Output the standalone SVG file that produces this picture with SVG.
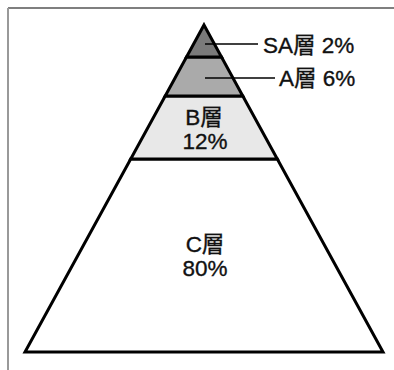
<svg xmlns="http://www.w3.org/2000/svg" width="394" height="370" viewBox="0 0 394 370">
<style>
.t{font-family:"Liberation Sans","Noto Sans CJK JP",sans-serif;font-size:22.5px;fill:#111;stroke:#111;stroke-width:0.35px}
.m{text-anchor:middle}
.lyr{stroke:#000;stroke-width:3;stroke-linejoin:miter}
.ld{stroke:#000;stroke-width:1.5}
</style>
<rect width="394" height="370" fill="#fff"/>
<g id="frame">
<line x1="8" y1="8" x2="394" y2="8" stroke="#555" stroke-width="1.5"/>
<line x1="8" y1="8" x2="8" y2="370" stroke="#999" stroke-width="2"/>
</g>
<g id="layer-C">
<polygon class="lyr" fill="#fff" points="130.7,159 277.3,159 383,352 25,352"/>
<text class="t m" x="205" y="252">C層</text>
<text class="t m" x="205" y="276">80%</text>
</g>
<g id="layer-B">
<polygon class="lyr" fill="#e8e8e8" points="165.2,96 242.8,96 277.3,159 130.7,159"/>
<text class="t m" x="204" y="125">B層</text>
<text class="t m" x="205" y="149">12%</text>
</g>
<g id="layer-A">
<polygon class="lyr" fill="#aaa" points="186.5,57 221.5,57 242.8,96 165.2,96"/>
<text class="t" x="279" y="86">A層 6%</text>
</g>
<g id="layer-SA">
<polygon class="lyr" fill="#7a7a7a" points="204,25 221.5,57 186.5,57"/>
<text class="t" x="263" y="53">SA層 2%</text>
</g>
<g id="connectors">
<line class="ld" x1="205" y1="44" x2="258" y2="44"/>
<line class="ld" x1="205" y1="78" x2="275" y2="78"/>
</g>
</svg>
